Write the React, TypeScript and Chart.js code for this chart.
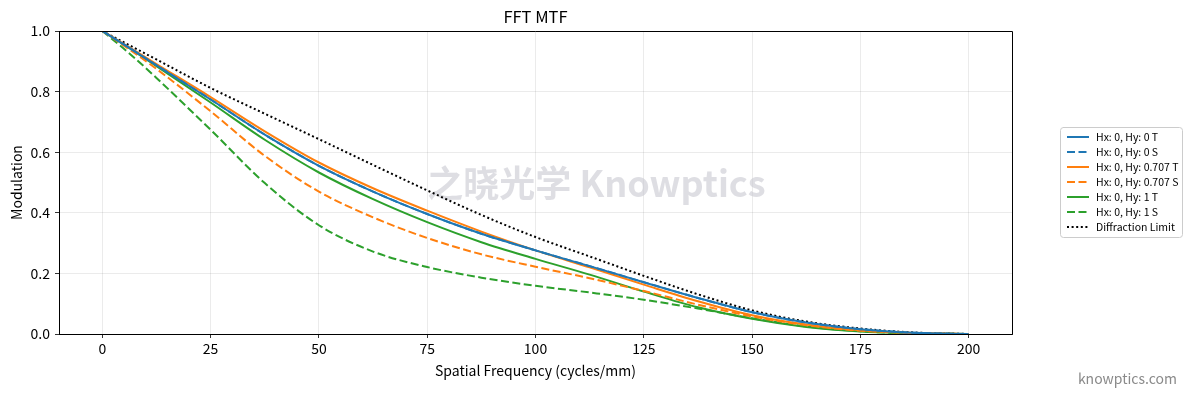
import React, { useEffect, useRef } from 'react';
import { Chart, registerables } from 'chart.js';

Chart.register(...registerables);

const FREQ = [0, 6.25, 12.5, 25, 37.5, 50, 62.5, 75, 87.5, 100, 112.5, 125, 137.5, 150, 162.5, 175, 187.5, 200];
const HY0_T = [1, 0.944, 0.887, 0.774, 0.658, 0.555, 0.470, 0.396, 0.331, 0.276, 0.224, 0.171, 0.119, 0.072, 0.038, 0.016, 0.004, 0];
const HY0_S = HY0_T;
const HY0707_T = [1, 0.946, 0.891, 0.782, 0.669, 0.566, 0.481, 0.407, 0.338, 0.276, 0.220, 0.163, 0.108, 0.062, 0.031, 0.012, 0.003, 0];
const HY0707_S = [1, 0.939, 0.875, 0.735, 0.588, 0.470, 0.385, 0.317, 0.263, 0.222, 0.184, 0.142, 0.097, 0.058, 0.029, 0.011, 0.003, 0];
const HY1_T = [1, 0.943, 0.884, 0.764, 0.641, 0.533, 0.445, 0.369, 0.303, 0.248, 0.196, 0.140, 0.088, 0.050, 0.023, 0.008, 0.002, 0];
const HY1_S = [1, 0.926, 0.845, 0.674, 0.498, 0.359, 0.272, 0.221, 0.186, 0.159, 0.137, 0.113, 0.084, 0.052, 0.025, 0.009, 0.002, 0];
const DIFFRACTION = [1, 0.953, 0.906, 0.812, 0.727, 0.643, 0.558, 0.474, 0.393, 0.320, 0.256, 0.192, 0.131, 0.078, 0.041, 0.018, 0.005, 0];

const LABELS = [
  'Hx: 0, Hy: 0 T',
  'Hx: 0, Hy: 0 S',
  'Hx: 0, Hy: 0.707 T',
  'Hx: 0, Hy: 0.707 S',
  'Hx: 0, Hy: 1 T',
  'Hx: 0, Hy: 1 S',
  'Diffraction Limit',
];
const X_TICKS = [0, 25, 50, 75, 100, 125, 150, 175, 200];
const Y_TICKS = [0, 0.2, 0.4, 0.6, 0.8, 1.0];

const FONT = '"Noto Sans CJK SC", "Noto Sans", sans-serif';
const BLUE = '#1f77b4';
const ORANGE = '#ff7f0e';
const GREEN = '#2ca02c';
const DASH = [8, 3.5];
const DOT = [2, 2.6];

const toPts = (ys: number[]) => ys.map((y, i) => ({ x: FREQ[i], y }));

const overlay = {
  id: 'overlay',
  beforeDatasetsDraw(chart: any) {
    const ctx = chart.ctx;
    const a = chart.chartArea;
    ctx.save();
    ctx.font = `bold 36px ${FONT}`;
    ctx.fillStyle = 'rgba(200,200,208,0.6)';
    ctx.textAlign = 'center';
    ctx.textBaseline = 'middle';
    ctx.fillText('之晓光学 Knowptics', (a.left + a.right) / 2 + 61, 183);
    ctx.restore();
  },
  afterDraw(chart: any) {
    const ctx = chart.ctx;
    const a = chart.chartArea;
    ctx.save();
    ctx.strokeStyle = '#000';
    ctx.lineWidth = 1;
    ctx.setLineDash([]);
    ctx.beginPath();
    ctx.moveTo(a.left, a.top + 0.5);
    ctx.lineTo(a.right + 0.5, a.top + 0.5);
    ctx.lineTo(a.right + 0.5, a.bottom);
    ctx.stroke();
    ctx.fillStyle = '#000';
    ctx.font = `16.5px ${FONT}`;
    ctx.textAlign = 'center';
    ctx.textBaseline = 'middle';
    ctx.fillText('FFT MTF', (a.left + a.right) / 2, 17);
    const lx = 1060, ly = 127, lw = 122, lh = 110;
    ctx.fillStyle = 'rgba(255,255,255,0.85)';
    ctx.strokeStyle = '#cccccc';
    ctx.lineWidth = 1;
    ctx.beginPath();
    const r = 3;
    ctx.moveTo(lx + r, ly + 0.5);
    ctx.arcTo(lx + lw + 0.5, ly + 0.5, lx + lw + 0.5, ly + lh, r);
    ctx.arcTo(lx + lw + 0.5, ly + lh + 0.5, lx, ly + lh + 0.5, r);
    ctx.arcTo(lx + 0.5, ly + lh + 0.5, lx + 0.5, ly, r);
    ctx.arcTo(lx + 0.5, ly + 0.5, lx + lw, ly + 0.5, r);
    ctx.closePath();
    ctx.fill();
    ctx.stroke();
    chart.data.datasets.forEach((ds: any, i: number) => {
      const y = 137 + i * 15;
      ctx.strokeStyle = ds.borderColor;
      ctx.lineWidth = ds.borderWidth;
      ctx.setLineDash(ds.borderDash || []);
      ctx.beginPath();
      ctx.moveTo(1067, y);
      ctx.lineTo(1089, y);
      ctx.stroke();
      ctx.setLineDash([]);
      ctx.fillStyle = '#000';
      ctx.font = `10.5px ${FONT}`;
      ctx.textAlign = 'left';
      ctx.textBaseline = 'middle';
      ctx.fillText(ds.label, 1096, y);
    });
    ctx.fillStyle = '#8a8a8a';
    ctx.font = `14px ${FONT}`;
    ctx.textAlign = 'right';
    ctx.textBaseline = 'middle';
    ctx.fillText('knowptics.com', 1177, 379);
    ctx.restore();
  },
};

export default function App() {
  const ref = useRef<HTMLCanvasElement>(null);
  useEffect(() => {
    document.body.style.margin = '0';
    const canvas = ref.current!;
    const mk = (label: string, data: number[], color: string, dash: number[] | undefined, width = 2) => ({
      label,
      data: toPts(data),
      borderColor: color,
      backgroundColor: color,
      borderWidth: width,
      borderDash: dash,
      borderCapStyle: 'butt',
      pointRadius: 0,
      fill: false,
      cubicInterpolationMode: 'monotone',
    });
    const chart = new Chart(canvas, {
      type: 'line',
      data: {
        datasets: [
          mk(LABELS[0], HY0_T, BLUE, undefined),
          mk(LABELS[1], HY0_S, BLUE, DASH),
          mk(LABELS[2], HY0707_T, ORANGE, undefined),
          mk(LABELS[3], HY0707_S, ORANGE, DASH),
          mk(LABELS[4], HY1_T, GREEN, undefined),
          mk(LABELS[5], HY1_S, GREEN, DASH),
          mk(LABELS[6], DIFFRACTION, '#000', DOT, 2),
        ] as any,
      },
      options: {
        animation: false,
        responsive: false,
        maintainAspectRatio: false,
        layout: { padding: { left: 0, right: 179, top: 31, bottom: 0 } },
        plugins: {
          legend: { display: false },
          title: { display: false },
          tooltip: { enabled: false },
        },
        scales: {
          x: {
            type: 'linear',
            min: -10,
            max: 210,
            afterFit: (s: any) => { s.height = 63; },
            afterBuildTicks: (s: any) => { s.ticks = X_TICKS.map((v) => ({ value: v })); },
            grid: { color: 'rgba(0,0,0,0.1)', lineWidth: 0.8, tickColor: '#000', tickLength: 4, drawTicks: true },
            border: { display: true, color: '#000', width: 1 },
            ticks: { color: '#000', font: { family: FONT, size: 14 }, padding: 2, maxRotation: 0, autoSkip: false },
            title: { display: true, text: 'Spatial Frequency (cycles/mm)', color: '#000', font: { family: FONT, size: 14 }, padding: { top: 0, bottom: 18 } },
          },
          y: {
            type: 'linear',
            min: 0,
            max: 1,
            afterFit: (s: any) => { s.width = 59; },
            afterBuildTicks: (s: any) => { s.ticks = Y_TICKS.map((v) => ({ value: v })); },
            grid: { color: 'rgba(0,0,0,0.1)', lineWidth: 0.8, tickColor: '#000', tickLength: 4, drawTicks: true },
            border: { display: true, color: '#000', width: 1 },
            ticks: { color: '#000', font: { family: FONT, size: 14 }, padding: 5, callback: (v: any) => Number(v).toFixed(1), autoSkip: false },
            title: { display: true, text: 'Modulation', color: '#000', font: { family: FONT, size: 14 }, padding: { top: 8, bottom: 0 } },
          },
        },
      } as any,
      plugins: [overlay],
    });
    return () => chart.destroy();
  }, []);
  return (
    <div style={{ width: 1191, height: 397, background: '#fff' }}>
      <canvas ref={ref} width={1191} height={397} style={{ display: 'block' }} />
    </div>
  );
}
